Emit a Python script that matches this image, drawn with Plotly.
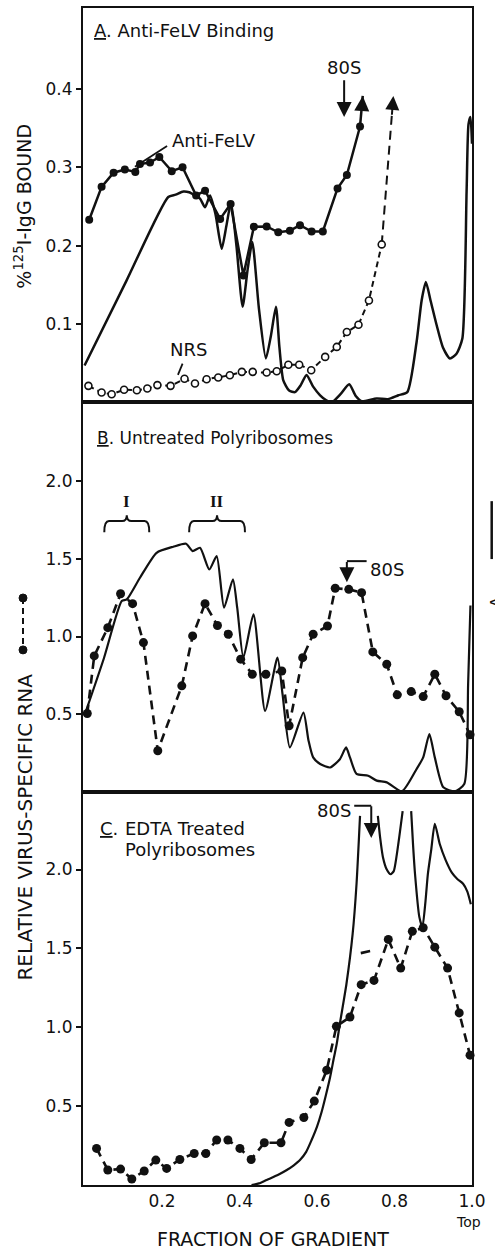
import plotly.graph_objects as go

# ---------------- data ----------------
# Panel A: anti-FeLV binding (% 125I-IgG bound)
antifelv_x = [0.012, 0.044, 0.075, 0.104, 0.131, 0.143, 0.169, 0.193, 0.225, 0.253, 0.288, 0.311,
              0.350, 0.377, 0.410, 0.437, 0.470, 0.500, 0.530, 0.556, 0.586, 0.615, 0.653, 0.677, 0.711]
antifelv_y = [0.233, 0.275, 0.293, 0.297, 0.294, 0.304, 0.306, 0.313, 0.295, 0.300, 0.264, 0.270,
              0.234, 0.253, 0.162, 0.224, 0.2245, 0.217, 0.219, 0.226, 0.218, 0.218, 0.273, 0.290, 0.352]
antifelv_tip_x = [0.711, 0.718]
antifelv_tip_y = [0.352, 0.391]

nrs_x = [0.010, 0.044, 0.070, 0.102, 0.135, 0.162, 0.188, 0.222, 0.258, 0.285, 0.315, 0.345, 0.375,
         0.406, 0.434, 0.470, 0.496, 0.526, 0.554, 0.585, 0.621, 0.651, 0.677, 0.707, 0.734, 0.767]
nrs_y = [0.021, 0.0125, 0.0104, 0.016, 0.0155, 0.0176, 0.022, 0.021, 0.030, 0.024, 0.0295, 0.0316, 0.0346,
         0.0389, 0.0389, 0.038, 0.0397, 0.048, 0.048, 0.041, 0.058, 0.0707, 0.0898, 0.099, 0.130, 0.2015]
nrs_tip_x = [0.767, 0.797]
nrs_tip_y = [0.2015, 0.391]

a254_A_x = [0.0, 0.108, 0.216, 0.235, 0.255, 0.270, 0.285, 0.298, 0.311, 0.324, 0.338, 0.354, 0.366, 0.378,
            0.392, 0.408, 0.421, 0.433, 0.450, 0.468, 0.481, 0.494, 0.503, 0.513, 0.528, 0.543, 0.558, 0.573,
            0.590, 0.608, 0.623, 0.638, 0.660, 0.683, 0.700, 0.715, 0.754, 0.783, 0.810, 0.833, 0.857, 0.870,
            0.881, 0.893, 0.909, 0.925, 0.943, 0.960, 0.975, 0.986, 0.991, 0.996, 1.0]
a254_A_y = [0.047, 0.155, 0.262, 0.265, 0.269, 0.268, 0.264, 0.260, 0.249, 0.264, 0.240, 0.196, 0.225, 0.255,
            0.200, 0.122, 0.170, 0.2045, 0.120, 0.056, 0.085, 0.122, 0.070, 0.028, 0.015, 0.013, 0.022, 0.035,
            0.020, 0.009, 0.003, 0.0, 0.010, 0.023, 0.008, 0.0015, 0.005, 0.004, 0.009, 0.013, 0.077, 0.130,
            0.1535, 0.130, 0.098, 0.070, 0.056, 0.062, 0.081, 0.268, 0.355, 0.364, 0.33]

# Panel B: untreated polyribosomes
rnaB_x = [0.007, 0.025, 0.060, 0.093, 0.124, 0.152, 0.189, 0.251, 0.279, 0.311, 0.343, 0.371, 0.403, 0.433,
          0.468, 0.509, 0.528, 0.563, 0.590, 0.627, 0.647, 0.682, 0.715, 0.744, 0.780, 0.807, 0.843, 0.874,
          0.904, 0.933, 0.967, 0.995]
rnaB_y = [0.504, 0.875, 1.057, 1.276, 1.212, 0.961, 0.264, 0.682, 1.004, 1.212, 1.071, 1.015, 0.854, 0.757,
          0.757, 0.778, 0.425, 0.864, 1.015, 1.068, 1.311, 1.304, 1.283, 0.901, 0.821, 0.624, 0.645, 0.613,
          0.757, 0.618, 0.515, 0.367]

a254_B_x = [0.001, 0.05, 0.096, 0.109, 0.143, 0.186, 0.229, 0.262, 0.279, 0.298, 0.322, 0.341, 0.360, 0.383,
            0.394, 0.410, 0.436, 0.466, 0.498, 0.511, 0.530, 0.565, 0.578, 0.590, 0.608, 0.634, 0.659, 0.675,
            0.685, 0.702, 0.732, 0.754, 0.780, 0.819, 0.857, 0.874, 0.890, 0.904, 0.926, 0.956, 0.980, 0.990, 0.996]
a254_B_y = [0.50, 0.86, 1.229, 1.239, 1.379, 1.540, 1.579, 1.598, 1.551, 1.572, 1.432, 1.519, 1.186, 1.369,
            1.186, 0.864, 1.143, 0.521, 0.864, 0.629, 0.285, 0.510, 0.33, 0.221, 0.178, 0.156, 0.209, 0.285,
            0.221, 0.114, 0.103, 0.071, 0.060, 0.002, 0.146, 0.221, 0.371, 0.221, 0.028, 0.002, 0.049, 0.693, 1.2]

# Panel C: EDTA treated polyribosomes
rnaC_x = [0.031, 0.060, 0.093, 0.122, 0.154, 0.184, 0.212, 0.246, 0.283, 0.313, 0.341, 0.370, 0.401, 0.430,
          0.464, 0.507, 0.528, 0.566, 0.593, 0.625, 0.650, 0.685, 0.714, 0.747, 0.784, 0.816, 0.846, 0.874,
          0.904, 0.937, 0.967, 0.995]
rnaC_y = [0.232, 0.095, 0.101, 0.038, 0.089, 0.158, 0.105, 0.162, 0.200, 0.200, 0.285, 0.285, 0.232, 0.162,
          0.268, 0.268, 0.397, 0.428, 0.532, 0.728, 1.006, 1.065, 1.270, 1.297, 1.557, 1.375, 1.608, 1.631,
          1.508, 1.375, 1.091, 0.823]
strayC_x = [0.713, 0.737]
strayC_y = [1.470, 1.483]

a254_C_x = [0.431, 0.45, 0.47, 0.50, 0.522, 0.54, 0.556, 0.572, 0.586, 0.60, 0.612, 0.623, 0.634, 0.643,
            0.651, 0.659, 0.676, 0.692, 0.702, 0.711, None,
            0.757, 0.763, 0.770, 0.780, 0.790, 0.798, 0.805, 0.813, 0.821, None,
            0.843, 0.848, 0.853, 0.864, 0.872, 0.880, 0.886, 0.895, 0.904, 0.917, 0.932, 0.948, 0.962,
            0.977, 0.988, 0.997]
a254_C_y = [0.0, 0.01, 0.032, 0.065, 0.095, 0.125, 0.158, 0.21, 0.285, 0.37, 0.464, 0.57, 0.686, 0.80,
            0.897, 1.023, 1.276, 1.593, 1.91, 2.34, None,
            2.34, 2.2, 2.08, 2.0, 1.97, 1.99, 2.08, 2.22, 2.37, None,
            2.37, 2.15, 1.97, 1.70, 1.635, 1.80, 1.97, 2.13, 2.29, 2.16, 2.06, 1.98, 1.94,
            1.91, 1.86, 1.78]

x_ticks = [0.2, 0.4, 0.6, 0.8, 1.0]
x_ticktext = ["0.2", "0.4", "0.6", "0.8", "1.0"]
yA_ticks = [0.1, 0.2, 0.3, 0.4]
yA_ticktext = ["0.1", "0.2", "0.3", "0.4"]
yBC_ticks = [0.5, 1.0, 1.5, 2.0]
yBC_ticktext = ["0.5", "1.0", "1.5", "2.0"]

# bracket groups in panel B (fraction range)
brackets = [("I", 0.051, 0.167), ("II", 0.270, 0.414)]

# ---------------- layout geometry ----------------
W, H = 495, 1249
ML, MR, MT, MB = 83, 23, 6, 64
PW = W - ML - MR
PH = H - MT - MB


def pxx(px):
    return (px - ML) / PW


def pxy(py):
    return (H - MB - py) / PH


FONT = "DejaVu Sans"
BLACK = "#111111"
DASH = "9px,6px"

fig = go.Figure()

# ---- Panel A ----
fig.add_trace(go.Scatter(x=a254_A_x, y=a254_A_y, mode="lines", xaxis="x", yaxis="y",
                         line=dict(color=BLACK, width=2.5, shape="spline", smoothing=0.6)))
fig.add_trace(go.Scatter(x=antifelv_tip_x, y=antifelv_tip_y, mode="lines", xaxis="x", yaxis="y",
                         line=dict(color=BLACK, width=2.5), cliponaxis=False))
fig.add_trace(go.Scatter(x=antifelv_x, y=antifelv_y, mode="lines+markers", xaxis="x", yaxis="y",
                         line=dict(color=BLACK, width=2.5),
                         marker=dict(color=BLACK, size=8), cliponaxis=False))
fig.add_trace(go.Scatter(x=nrs_tip_x, y=nrs_tip_y, mode="lines", xaxis="x", yaxis="y",
                         line=dict(color=BLACK, width=2, dash=DASH), cliponaxis=False))
fig.add_trace(go.Scatter(x=nrs_x, y=nrs_y, mode="lines+markers", xaxis="x", yaxis="y",
                         line=dict(color=BLACK, width=2, dash="6px,4px"),
                         marker=dict(color="white", size=7, line=dict(color=BLACK, width=1.6)),
                         cliponaxis=False))

# ---- Panel B ----
fig.add_trace(go.Scatter(x=a254_B_x, y=a254_B_y, mode="lines", xaxis="x2", yaxis="y2",
                         line=dict(color=BLACK, width=2.2, shape="spline", smoothing=0.6)))
fig.add_trace(go.Scatter(x=rnaB_x, y=rnaB_y, mode="lines+markers", xaxis="x2", yaxis="y2",
                         line=dict(color=BLACK, width=2.6, dash=DASH),
                         marker=dict(color=BLACK, size=9), cliponaxis=False))

# ---- Panel C ----
fig.add_trace(go.Scatter(x=a254_C_x, y=a254_C_y, mode="lines", xaxis="x3", yaxis="y3",
                         line=dict(color=BLACK, width=2.2, shape="spline", smoothing=0.6),
                         connectgaps=False))
fig.add_trace(go.Scatter(x=strayC_x, y=strayC_y, mode="lines", xaxis="x3", yaxis="y3",
                         line=dict(color=BLACK, width=2.6)))
fig.add_trace(go.Scatter(x=rnaC_x, y=rnaC_y, mode="lines+markers", xaxis="x3", yaxis="y3",
                         line=dict(color=BLACK, width=2.6, dash=DASH),
                         marker=dict(color=BLACK, size=9), cliponaxis=False))

# ---- axes ----
domA = [pxy(401), 1.0]
domB = [pxy(791), pxy(401)]
domC = [0.0, pxy(791)]
xr = [-0.004, 1.0]
axis_common = dict(showline=True, linecolor=BLACK, linewidth=2, mirror=True,
                   showgrid=False, zeroline=False)
tickfont = dict(family=FONT, size=17, color=BLACK)

fig.update_layout(
    xaxis=dict(domain=[0, 1], range=xr, anchor="y", showticklabels=False, ticks="", **axis_common),
    xaxis2=dict(domain=[0, 1], range=xr, anchor="y2", showticklabels=False, ticks="", **axis_common),
    xaxis3=dict(domain=[0, 1], range=xr, anchor="y3", tickvals=x_ticks, ticktext=x_ticktext,
                ticks="", tickfont=tickfont, **axis_common),
    yaxis=dict(domain=domA, range=[0, (401 - 6) / 785.0], anchor="x", tickvals=yA_ticks,
               ticktext=yA_ticktext, ticks="outside", ticklen=5, tickwidth=2, tickcolor=BLACK,
               tickfont=tickfont, **axis_common),
    yaxis2=dict(domain=domB, range=[0, (791 - 401) / 155.4], anchor="x2", tickvals=yBC_ticks,
                ticktext=yBC_ticktext, ticks="outside", ticklen=5, tickwidth=2, tickcolor=BLACK,
                tickfont=tickfont, **axis_common),
    yaxis3=dict(domain=domC, range=[0, (1185 - 791) / 158.0], anchor="x3", tickvals=yBC_ticks,
                ticktext=yBC_ticktext, ticks="outside", ticklen=5, tickwidth=2, tickcolor=BLACK,
                tickfont=tickfont, **axis_common),
    width=W, height=H,
    margin=dict(l=ML, r=MR, t=MT, b=MB),
    paper_bgcolor="white", plot_bgcolor="white",
    showlegend=False,
    font=dict(family=FONT, color=BLACK),
)

ann = []
shapes = []


def txt(text, x, y, xref, yref, size=16, xanchor="center", yanchor="middle", angle=0, family=FONT):
    ann.append(dict(text=text, x=x, y=y, xref=xref, yref=yref, showarrow=False,
                    xanchor=xanchor, yanchor=yanchor, textangle=angle,
                    font=dict(family=family, size=size, color=BLACK)))


def arrow(x, y, ax, ay, xref, yref, width=2, size=1.5):
    ann.append(dict(text="", x=x, y=y, ax=ax, ay=ay, xref=xref, yref=yref,
                    axref=xref, ayref=yref, showarrow=True, arrowhead=2,
                    arrowsize=size, arrowwidth=width, arrowcolor=BLACK, standoff=0))


# Panel titles
txt("<u>A</u>. Anti-FeLV Binding", 0.019, 0.4745, "x", "y", size=18, xanchor="left")
txt("<u>B</u>. Untreated Polyribosomes", 0.027, 2.278, "x2", "y2", size=17, xanchor="left")
txt("<u>C</u>.", 0.034, 2.26, "x3", "y3", size=18, xanchor="left")
txt("EDTA Treated", 0.098, 2.26, "x3", "y3", size=18, xanchor="left")
txt("Polyribosomes", 0.098, 2.13, "x3", "y3", size=18, xanchor="left")

# Panel A labels
txt("Anti-FeLV", 0.221, 0.334, "x", "y", size=18, xanchor="left")
shapes.append(dict(type="line", xref="x", yref="y", x0=0.130, y0=0.3006, x1=0.213, y1=0.327,
                   line=dict(color=BLACK, width=1.8)))
txt("NRS", 0.267, 0.068, "x", "y", size=18)
shapes.append(dict(type="line", xref="x", yref="y", x0=0.253, y0=0.0494, x1=0.241, y1=0.035,
                   line=dict(color=BLACK, width=1.8)))
txt("80S", 0.670, 0.427, "x", "y", size=18)
arrow(0.670, 0.364, 0.670, 0.413, "x", "y", width=2, size=1.5)
arrow(antifelv_tip_x[1], antifelv_tip_y[1], 0.7155, 0.372, "x", "y", width=2.5, size=1.2)
arrow(nrs_tip_x[1], nrs_tip_y[1], 0.793, 0.365, "x", "y", width=2, size=1.4)

# Panel B brackets and labels
for label, b0, b1 in brackets:
    bm = (b0 + b1) / 2
    yb, yt, ytip = 1.673, 1.744, 1.782
    e = 0.012
    path = (f"M {b0},{yb} Q {b0},{yt} {b0 + e},{yt} L {bm - e},{yt} Q {bm},{yt} {bm},{ytip} "
            f"Q {bm},{yt} {bm + e},{yt} L {b1 - e},{yt} Q {b1},{yt} {b1},{yb}")
    shapes.append(dict(type="path", xref="x2", yref="y2", path=path,
                       line=dict(color=BLACK, width=2)))
    txt(f"<b>{label}</b>", bm, 1.87, "x2", "y2", size=17, family="Liberation Serif")

txt("80S", 0.732, 1.43, "x2", "y2", size=18, xanchor="left")
shapes.append(dict(type="line", xref="x2", yref="y2", x0=0.677, y0=1.486, x1=0.728, y1=1.486,
                   line=dict(color=BLACK, width=2)))
arrow(0.677, 1.35, 0.677, 1.49, "x2", "y2", width=2, size=1.5)

# Panel C 80S
txt("80S", 0.692, 2.373, "x3", "y3", size=18, xanchor="right")
shapes.append(dict(type="line", xref="x3", yref="y3", x0=0.696, y0=2.405, x1=0.740, y1=2.405,
                   line=dict(color=BLACK, width=2)))
arrow(0.740, 2.20, 0.740, 2.41, "x3", "y3", width=2, size=1.5)

# Axis titles
txt("%<sup>125</sup>I-IgG BOUND", pxx(23), pxy(205), "paper", "paper", size=19, angle=-90)
txt("RELATIVE VIRUS-SPECIFIC RNA", pxx(25), pxy(827), "paper", "paper", size=20, angle=-90)
txt("FRACTION OF GRADIENT", pxx(273), pxy(1239), "paper", "paper", size=19)
txt("Top", 0.99, pxy(1222), "x3", "paper", size=14)

# legend symbol for dashed curve (vertical, left side)
shapes.append(dict(type="line", xref="paper", yref="paper", x0=pxx(23), x1=pxx(23),
                   y0=pxy(597), y1=pxy(649), line=dict(color=BLACK, width=2, dash="6px,4px")))
for py in (597, 649):
    shapes.append(dict(type="circle", xref="paper", yref="paper", xsizemode="pixel",
                       ysizemode="pixel", xanchor=pxx(23), yanchor=pxy(py),
                       x0=-4, x1=4, y0=-4, y1=4, fillcolor=BLACK, line=dict(color=BLACK, width=1)))

# right-side A254 label (cut at page edge)
txt("A<sub>254</sub>", pxx(498), pxy(590), "paper", "paper", size=17, angle=-90)
shapes.append(dict(type="line", xref="paper", yref="paper", x0=pxx(491.7), x1=pxx(491.7),
                   y0=pxy(500), y1=pxy(558), line=dict(color=BLACK, width=2.5)))

fig.update_layout(annotations=ann, shapes=shapes)
fig.write_html("out.html")
